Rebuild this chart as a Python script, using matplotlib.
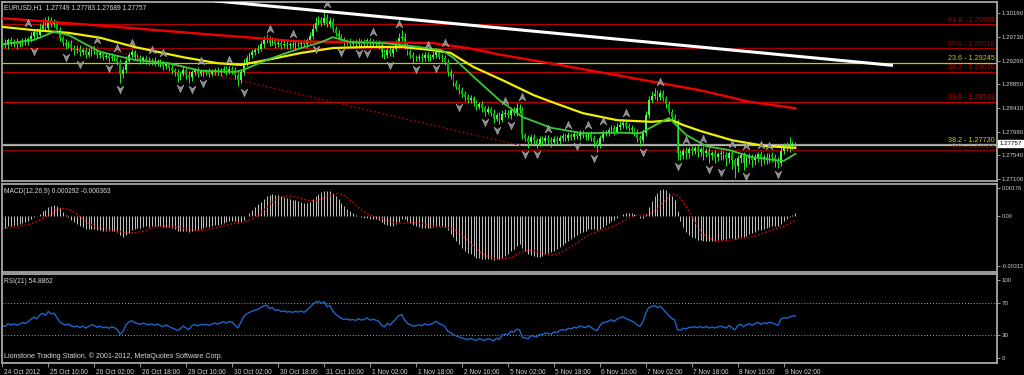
import numpy as np
import pandas as pd
import matplotlib
matplotlib.use("Agg")
import matplotlib.pyplot as plt
import matplotlib.transforms as mtransforms
from matplotlib.path import Path

plt.rcParams['font.family'] = ['Liberation Sans', 'DejaVu Sans']

# EURUSD H1, 24 Oct 18:00 .. 9 Nov 06:00, prices in pips above BASE
BASE = 1.27
first_open = 260
closes = [
    262, 258, 266, 260, 264, 259, 262, 266, 263, 268,
    275, 281, 276, 288, 294, 289, 303, 296, 299, 285,
    270, 262, 257, 260, 253, 248, 251, 244, 248, 240,
    244, 249, 246, 239, 242, 236, 238, 233, 236, 234,
    226, 204, 211, 229, 239, 244, 236, 233, 229, 233,
    229, 226, 229, 224, 227, 222, 218, 222, 216, 211,
    207, 200, 205, 211, 203, 198, 207, 211, 205, 209,
    207, 209, 205, 209, 211, 207, 211, 213, 209, 213,
    211, 203, 194, 207, 224, 234, 239, 244, 248, 251,
    259, 266, 270, 262, 266, 259, 262, 257, 260, 257,
    259, 257, 260, 259, 262, 259, 266, 275, 288, 299,
    303, 299, 307, 296, 301, 288, 279, 272, 266, 262,
    264, 260, 262, 259, 264, 260, 262, 266, 260, 262,
    260, 257, 244, 239, 248, 242, 251, 259, 270, 273,
    257, 244, 239, 233, 234, 236, 233, 239, 234, 236,
    239, 244, 236, 233, 226, 207, 200, 188, 181, 174,
    167, 161, 156, 159, 150, 144, 148, 141, 135, 139,
    133, 122, 128, 120, 130, 133, 128, 137, 133, 141,
    137, 91, 86, 78, 88, 82, 76, 84, 80, 86,
    82, 78, 84, 80, 86, 89, 86, 91, 88, 93,
    89, 95, 91, 88, 93, 86, 78, 73, 86, 95,
    96, 100, 104, 98, 106, 110, 113, 108, 104, 100,
    96, 86, 82, 95, 128, 156, 163, 167, 161, 169,
    159, 148, 135, 124, 117, 58, 54, 63, 58, 65,
    63, 67, 61, 65, 58, 63, 54, 58, 52, 56,
    58, 54, 49, 58, 45, 34, 49, 54, 41, 49,
    52, 45, 51, 56, 47, 52, 49, 54, 51, 45,
    41, 63, 69, 67, 71, 74.9, 75.7,
]
up_wick = [
    5, 6, 4, 7, 5, 6, 5, 4, 6, 5,
    6, 7, 8, 10, 12, 15, 8, 7, 6, 5,
    6, 5, 7, 5, 6, 5, 7, 6, 5, 6,
    8, 5, 6, 5, 6, 5, 6, 5, 6, 5,
    5, 6, 7, 8, 5, 6, 5, 5, 6, 5,
    5, 6, 5, 6, 5, 5, 6, 5, 5, 6,
    5, 6, 5, 7, 5, 6, 5, 5, 6, 5,
    5, 5, 6, 5, 5, 6, 5, 6, 5, 5,
    5, 6, 5, 6, 7, 6, 5, 6, 5, 7,
    6, 8, 7, 5, 6, 5, 6, 5, 6, 5,
    5, 6, 5, 6, 5, 6, 5, 7, 8, 10,
    8, 7, 15, 7, 8, 6, 5, 6, 5, 6,
    5, 6, 5, 6, 7, 5, 6, 5, 5, 6,
    5, 6, 5, 6, 5, 6, 5, 7, 10, 12,
    6, 5, 6, 5, 6, 5, 6, 5, 6, 5,
    7, 8, 6, 5, 6, 5, 6, 5, 6, 5,
    6, 5, 6, 7, 5, 6, 5, 6, 5, 6,
    5, 6, 5, 6, 7, 6, 5, 6, 7, 10,
    8, 6, 5, 6, 5, 6, 5, 6, 5, 6,
    5, 6, 5, 6, 5, 6, 5, 6, 5, 6,
    5, 6, 5, 6, 5, 6, 5, 6, 5, 6,
    5, 6, 7, 6, 7, 8, 9, 6, 5, 6,
    5, 6, 5, 6, 8, 7, 10, 12, 7, 6,
    6, 5, 6, 5, 6, 5, 6, 5, 6, 5,
    6, 5, 6, 5, 6, 5, 6, 5, 6, 5,
    6, 5, 6, 5, 6, 5, 6, 5, 6, 5,
    6, 5, 6, 5, 6, 5, 6, 5, 6, 5,
    6, 7, 8, 10, 17, 5, 2.6,
]
down_wick = [
    6, 5, 7, 5, 6, 8, 5, 6, 5, 6,
    5, 6, 5, 6, 5, 6, 5, 6, 5, 6,
    5, 6, 7, 5, 6, 8, 5, 6, 5, 7,
    5, 6, 5, 6, 5, 6, 5, 7, 5, 6,
    6, 17, 7, 5, 6, 5, 6, 5, 6, 5,
    6, 5, 6, 5, 6, 5, 6, 5, 6, 7,
    6, 11, 7, 5, 8, 11, 6, 5, 6, 5,
    6, 5, 6, 5, 6, 5, 6, 5, 6, 5,
    6, 8, 12, 6, 5, 6, 5, 6, 5, 6,
    5, 6, 5, 6, 5, 7, 5, 6, 5, 7,
    6, 5, 6, 5, 6, 5, 6, 5, 6, 5,
    5, 6, 5, 6, 5, 6, 5, 6, 5, 6,
    5, 6, 5, 6, 5, 6, 5, 6, 5, 6,
    5, 6, 8, 7, 6, 5, 6, 5, 6, 5,
    6, 5, 6, 8, 5, 6, 7, 5, 6, 5,
    5, 6, 5, 6, 5, 6, 5, 6, 5, 6,
    5, 6, 5, 6, 5, 6, 5, 6, 8, 5,
    6, 8, 5, 8, 5, 6, 5, 6, 5, 6,
    5, 6, 6, 10, 5, 6, 8, 5, 6, 5,
    6, 8, 5, 6, 5, 6, 5, 6, 5, 6,
    5, 6, 5, 6, 5, 6, 8, 12, 5, 6,
    5, 6, 5, 6, 5, 6, 5, 6, 5, 6,
    6, 7, 10, 5, 6, 5, 6, 5, 6, 5,
    5, 6, 5, 6, 5, 12, 9, 7, 10, 8,
    9, 7, 10, 8, 12, 7, 14, 8, 12, 9,
    10, 8, 14, 9, 16, 22, 10, 8, 14, 9,
    10, 12, 8, 9, 12, 8, 10, 8, 9, 12,
    10, 6, 7, 5, 6, 5, 6,
]

up_fractals = [9, 33, 40, 45, 52, 56, 69, 79, 93, 101, 113, 129, 138, 148, 154,
               175, 181, 190, 197, 204, 209, 217, 229, 238, 244, 254, 259, 264, 267]
down_fractals = [11, 22, 27, 37, 41, 62, 66, 70, 84, 109, 118, 124, 127, 135, 144,
                 151, 159, 168, 172, 177, 182, 186, 200, 206, 223, 235, 246, 250,
                 255, 259, 270]

# moving averages (bar index, pips)
yellow_bars = [0, 11, 23, 34, 46, 63, 75, 83, 92, 104, 115, 127, 139, 150, 156, 164,
               174, 185, 191, 202, 214, 226, 233, 237, 243, 254, 266, 276]
yellow_pips = [291, 285, 280, 271, 254, 235, 224, 221, 230, 243, 252, 254, 254, 248, 243, 217,
               193, 165, 153, 132, 119, 116, 119, 110, 99, 82, 71, 68]
green_bars = [0, 11, 18, 23, 34, 46, 58, 69, 81, 84, 92, 100, 104, 111, 115, 121, 133, 145,
              153, 157, 164, 173, 181, 191, 202, 214, 222, 228, 232, 238, 245, 253,
              261, 268, 272, 276]
green_pips = [259, 267, 282, 276, 245, 230, 224, 210, 208, 212, 230, 245, 252, 263, 272, 263,
              261, 254, 248, 234, 199, 156, 125, 105, 95, 96, 95, 112, 123, 92, 71, 64,
              51, 46, 44, 57]
red_bars = [0, 35, 70, 104, 127, 150, 162, 173, 197, 220, 243, 260, 276]
red_pips = [307, 293, 278, 264, 263, 261, 252, 240, 218, 196, 174, 153, 141]

# indicator state at the first visible bar
ema12_seed, ema26_seed = 1.2962, 1.2970
rsi_gain_seed, rsi_loss_seed = 2.5e-4, 3.5e-4

white_line_bars = [70, 310]
white_line_price = [1.3041, 1.2920]
dotted_line_bars = [17.5, 181]
dotted_line_price = [1.29723, 1.27714]

fib_levels = [1.29955, 1.29516, 1.29245, 1.29076, 1.28533, 1.27730, 1.27633]
fib_names = ['61.8', '50.0', '23.6', '38.2', '23.6', '38.2', '0.0']
fib_colors = ['#b40000', '#a00000', '#c8c800', '#b40000', '#c00000', '#d2d200', '#900000']

price_ticks = [1.30160, 1.29730, 1.29290, 1.28850, 1.28410, 1.27980, 1.27540, 1.27100]
macd_ticks = [0.00176, 0.0, -0.00312]
macd_tick_labels = ['0.00176', '0.00', '-0.00312']
rsi_ticks = [100, 70, 30, 0]
date_labels = ['24 Oct 2012', '25 Oct 10:00', '26 Oct 02:00', '26 Oct 18:00', '29 Oct 10:00',
               '30 Oct 02:00', '30 Oct 18:00', '31 Oct 10:00', '1 Nov 02:00', '1 Nov 18:00',
               '2 Nov 10:00', '5 Nov 02:00', '5 Nov 18:00', '6 Nov 10:00', '7 Nov 02:00',
               '7 Nov 18:00', '8 Nov 10:00', '9 Nov 02:00']
last_price = 1.27757

# ---- derived series
c = BASE + np.array(closes) / 1e4
o = BASE + np.array([first_open] + closes[:-1]) / 1e4
h = np.maximum(o, c) + np.array(up_wick) / 1e4
l = np.minimum(o, c) - np.array(down_wick) / 1e4
idx = np.arange(len(c))
cs = pd.Series(c)


def seeded_ema(series, seed, span):
    s = pd.concat([pd.Series([seed]), series], ignore_index=True)
    return s.ewm(span=span, adjust=False).mean().iloc[1:].reset_index(drop=True)


macd = seeded_ema(cs, ema12_seed, 12) - seeded_ema(cs, ema26_seed, 26)
signal = macd.rolling(9, min_periods=1).mean()  # MT4 uses an SMA signal

delta = cs.diff().fillna(0)
g = pd.Series(np.r_[rsi_gain_seed, delta.clip(lower=0).values[1:]])
ls_ = pd.Series(np.r_[rsi_loss_seed, (-delta.clip(upper=0)).values[1:]])
rsi = 100 - 100 / (1 + g.ewm(alpha=1 / 21, adjust=False).mean()
                   / ls_.ewm(alpha=1 / 21, adjust=False).mean())

# ---- figure, panel positions in pixels
W, H = 1024, 375
fig = plt.figure(figsize=(W / 100, H / 100), dpi=100, facecolor='black')
LEFT, RIGHT = 1.5, 997


def panel(top, bottom, lsize=4.4):
    a = fig.add_axes([LEFT / W, 1 - bottom / H, (RIGHT - LEFT) / W, (bottom - top) / H])
    a.set_facecolor('black')
    for s in a.spines.values():
        s.set_color('#a8a8a8')
        s.set_linewidth(1.3)
    a.set_xlim(-0.3, 346.2)
    a.yaxis.tick_right()
    a.tick_params(axis='y', colors='#b0b0b0', labelcolor='#d0d0d0', labelsize=lsize,
                  length=2.5, width=0.6, pad=1.0, direction='out')
    a.set_xticks([])
    return a


ax = panel(1.5, 181)
axm = panel(184, 271.5, 4.0)
axr = panel(274, 362.5)

TXT = '#d8d8d8'
FS = 4.8

# ---- main chart
ax.set_ylim(1.27069, 1.30378)
for lev, name, col in zip(fib_levels, fib_names, fib_colors):
    ax.axhline(lev, color=col, lw=0.9, zorder=1)
    ax.text(345.5, lev + 0.00012, '%s - %.5f' % (name, lev), color=col, fontsize=5.2,
            ha='right', va='bottom', zorder=1)
ax.axhline(last_price, color='#a0a0a0', lw=0.9, zorder=1)

ax.plot(dotted_line_bars, dotted_line_price, color='#b00000', lw=0.9,
        ls=(0, (1.5, 1.8)), zorder=2)

up = c >= o
ax.vlines(idx, l, h, color='#22ee22', lw=0.7, zorder=3)
body_lo = np.minimum(o, c)
body_h = np.maximum(np.abs(c - o), 0.00004)
ax.bar(idx[up], body_h[up], bottom=body_lo[up], width=0.62, color='#44ff44', lw=0, zorder=3)
ax.bar(idx[~up], body_h[~up], bottom=body_lo[~up], width=0.62, color='#00b400', lw=0, zorder=3)

ax.plot(red_bars, BASE + np.array(red_pips) / 1e4, color='#f00000', lw=1.7, zorder=4)
ax.plot(yellow_bars, BASE + np.array(yellow_pips) / 1e4, color='#f0f000', lw=1.6, zorder=4)
ax.plot(green_bars, BASE + np.array(green_pips) / 1e4, color='#3cc83c', lw=1.3, zorder=4)

up_arrow = Path([(0, 1), (0.8, -0.8), (0, -0.2), (-0.8, -0.8), (0, 1)],
                [Path.MOVETO, Path.LINETO, Path.LINETO, Path.LINETO, Path.CLOSEPOLY])
down_arrow = Path([(0, -1), (0.8, 0.8), (0, 0.2), (-0.8, 0.8), (0, -1)],
                  [Path.MOVETO, Path.LINETO, Path.LINETO, Path.LINETO, Path.CLOSEPOLY])
uf_y = [h[max(i - 2, 0):i + 3].max() + 0.0011 for i in up_fractals]
df_y = [l[max(i - 2, 0):i + 3].min() - 0.0011 for i in down_fractals]
ax.plot(up_fractals, uf_y, ls='none', marker=up_arrow, ms=6, color='#8a8a8a',
        mec='#b4b4b4', mew=0.4, zorder=5)
ax.plot(down_fractals, df_y, ls='none', marker=down_arrow, ms=6, color='#8a8a8a',
        mec='#b4b4b4', mew=0.4, zorder=5)

ax.plot(white_line_bars, white_line_price, color='white', lw=2.2, zorder=6,
        solid_capstyle='butt')

ax.set_yticks(price_ticks)
ax.set_yticklabels(['%.5f' % p for p in price_ticks])
ax.text(0.003, 0.985, 'EURUSD,H1  1.27749 1.27783 1.27689 1.27757', transform=ax.transAxes,
        color=TXT, fontsize=FS, ha='left', va='top')
ax.text(1.0025, last_price, '1.27757', transform=mtransforms.blended_transform_factory(
        ax.transAxes, ax.transData), color='black', fontsize=4.4, ha='left', va='center',
        bbox=dict(facecolor='white', edgecolor='white', pad=0.8), clip_on=False, zorder=7)

# ---- MACD
axm.set_ylim(-0.00345, 0.00203)
axm.vlines(idx, 0, macd, color='#c4c4c4', lw=0.7)
axm.plot(idx, signal, color='#e00000', lw=0.9, ls=(0, (1.5, 1.5)))
axm.set_yticks(macd_ticks)
axm.set_yticklabels(macd_tick_labels)
axm.text(0.003, 0.95, 'MACD(12,26,9) 0.000292 -0.000363', transform=axm.transAxes,
         color=TXT, fontsize=FS, ha='left', va='top')

# ---- RSI
axr.set_ylim(-5.8, 107.7)
for lev in (70, 30):
    axr.axhline(lev, color='#a8a8a8', lw=0.7, ls=(0, (1, 2)))
axr.plot(idx, rsi, color='#1e64c8', lw=1.0)
axr.set_yticks(rsi_ticks)
axr.set_yticklabels([str(v) for v in rsi_ticks])
axr.text(0.003, 0.95, 'RSI(21) 54.8862', transform=axr.transAxes,
         color=TXT, fontsize=FS, ha='left', va='top')
axr.text(0.003, 0.03, 'Lionstone Trading Station, \u00a9 2001-2012, MetaQuotes Software Corp.',
         transform=axr.transAxes, color=TXT, fontsize=5.1, ha='left', va='bottom')

axr.set_xticks(np.arange(len(date_labels)) * 16)
axr.set_xticklabels(date_labels, ha='left')
axr.tick_params(axis='x', colors='#b0b0b0', labelcolor='#d0d0d0', labelsize=FS,
                length=3, width=0.6, pad=1.5, direction='out')
shift = mtransforms.ScaledTranslation(1.5 / 100, 0, fig.dpi_scale_trans)
for lab in axr.get_xticklabels():
    lab.set_transform(lab.get_transform() + shift)

fig.savefig('out.png', dpi=100, facecolor='black')
